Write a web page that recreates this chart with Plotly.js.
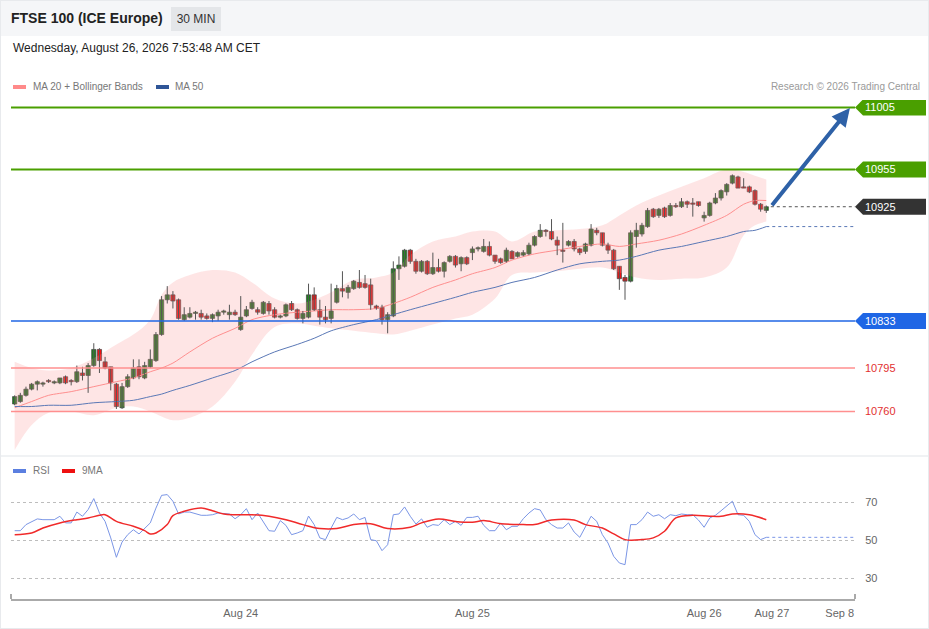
<!DOCTYPE html>
<html>
<head>
<meta charset="utf-8">
<script src="https://cdn.plot.ly/plotly-3.0.1.min.js"></script>
<style>
  html,body{margin:0;padding:0;background:#fff;}
  #wrap{position:relative;width:929px;height:629px;overflow:hidden;font-family:"Liberation Sans",Arial,sans-serif;}
  #chart{position:absolute;left:0;top:0;width:929px;height:629px;z-index:1;}
  .ov{position:absolute;z-index:2;white-space:nowrap;}
  #hdr{position:absolute;left:0;top:0;width:929px;height:36px;background:#f5f6f8;z-index:0;}
  #title{left:11px;top:10px;font-size:14px;font-weight:bold;color:#222;line-height:17px;}
  #badge{left:171px;top:7px;width:50px;height:24px;background:#e4e6e9;color:#333;font-size:12px;line-height:24px;text-align:center;}
  #date{left:13px;top:41px;font-size:12px;color:#222;line-height:14px;}
  .lg{font-size:10px;color:#777;line-height:12px;}
  .sw{position:absolute;z-index:2;height:4px;width:13px;}
  #sep{position:absolute;left:0;top:455px;width:929px;height:2px;background:#f0f2f4;z-index:0;}
  #border{position:absolute;left:0;top:0;width:927px;height:627px;border:1px solid #e8eaed;z-index:3;pointer-events:none;}
</style>
</head>
<body>
<div id="wrap">
  <div id="hdr"></div>
  <div id="sep"></div>
  <div id="chart"></div>
  <div class="ov" id="title">FTSE 100 (ICE Europe)</div>
  <div class="ov" id="badge">30 MIN</div>
  <div class="ov" id="date">Wednesday, August 26, 2026 7:53:48 AM CET</div>
  <div class="sw" style="left:13px;top:85px;background:#ff8a8a;"></div>
  <div class="ov lg" style="left:33px;top:81px;">MA 20 + Bollinger Bands</div>
  <div class="sw" style="left:156px;top:85px;background:#2f5597;"></div>
  <div class="ov lg" style="left:175px;top:81px;">MA 50</div>
  <div class="ov lg" style="right:9px;top:81px;color:#9a9a9a;">Research © 2026 Trading Central</div>
  <div class="sw" style="left:13px;top:469px;background:#5b7fe0;"></div>
  <div class="ov lg" style="left:33px;top:465px;">RSI</div>
  <div class="sw" style="left:62px;top:469px;background:#ee1111;"></div>
  <div class="ov lg" style="left:82px;top:465px;">9MA</div>
  <div id="border"></div>
</div>
<script>
// ---------- DATA ----------
const candleOpen = [10766,10768,10773,10778,10782,10782,10785,10783,10783,10788,
10785,10784,10791,10789,10797,10810,10800,10796,10782,10763,
10780,10787,10796,10787,10796,10801,10822,10850,10854,10850,
10834,10836,10839,10839,10837,10835,10837,10840,10838,10840,
10826,10837,10843,10842,10839,10847,10842,10836,10837,10847,
10842,10835,10836,10854,10842,10836,10835,10848,10859,10856,
10859,10864,10863,10862,10845,10844,10834,10837,10875,10877,
10890,10881,10873,10881,10871,10876,10873,10881,10885,10879,
10884,10888,10891,10889,10893,10886,10883,10881,10889,10885,
10886,10887,10894,10901,10906,10905,10898,10890,10894,10897,
10891,10889,10894,10906,10904,10894,10890,10877,10868,10865,
10901,10903,10909,10923,10918,10924,10918,10926,10925,10929,
10928,10929,10916,10918,10928,10932,10937,10944,10949,10941,
10941,10938,10927,10922];
const candleHigh = [10773,10775,10780,10783,10785,10784,10786,10785,10787,10789,
10786,10797,10796,10799,10815,10811,10804,10796,10783,10783,
10790,10802,10802,10800,10810,10824,10853,10861,10857,10851,
10844,10844,10841,10842,10839,10839,10842,10842,10846,10842,
10853,10845,10850,10844,10849,10849,10844,10838,10847,10849,
10843,10841,10863,10860,10850,10845,10863,10862,10873,10862,
10866,10874,10870,10867,10846,10846,10840,10881,10885,10891,
10891,10883,10882,10882,10888,10883,10881,10886,10886,10885,
10885,10893,10893,10899,10897,10886,10884,10892,10890,10889,
10890,10896,10902,10911,10907,10915,10901,10912,10898,10899,
10892,10896,10911,10908,10904,10896,10891,10877,10870,10906,
10912,10912,10924,10924,10924,10925,10928,10928,10932,10930,
10932,10929,10921,10929,10936,10939,10944,10951,10950,10948,
10942,10939,10928,10926];
const candleLow = [10765,10767,10772,10777,10777,10780,10783,10782,10782,10782,
10781,10783,10785,10775,10796,10791,10794,10777,10762,10762,
10779,10786,10786,10786,10795,10800,10821,10847,10843,10834,
10833,10835,10834,10834,10834,10832,10833,10838,10834,10837,
10825,10836,10842,10838,10838,10838,10835,10835,10836,10841,
10834,10831,10835,10841,10830,10831,10831,10847,10852,10851,
10858,10859,10859,10842,10842,10830,10823,10836,10866,10876,
10879,10871,10872,10870,10870,10872,10868,10880,10876,10873,
10878,10882,10889,10888,10885,10879,10879,10880,10883,10884,
10885,10886,10893,10900,10901,10898,10886,10880,10893,10889,
10886,10887,10893,10902,10893,10887,10874,10858,10850,10864,
10892,10901,10908,10916,10916,10916,10917,10924,10924,10924,
10917,10925,10913,10917,10927,10930,10934,10943,10940,10940,
10936,10926,10921,10920];
const candleClose = [10772,10773,10778,10782,10784,10783,10784,10784,10787,10783,
10784,10792,10789,10797,10810,10801,10795,10783,10764,10780,
10788,10795,10788,10797,10802,10822,10850,10854,10849,10835,
10838,10839,10840,10836,10835,10838,10840,10841,10840,10838,
10836,10842,10848,10840,10848,10841,10836,10837,10846,10842,
10835,10839,10854,10842,10836,10834,10841,10859,10857,10860,
10865,10860,10860,10846,10843,10834,10838,10875,10878,10890,
10881,10873,10881,10871,10876,10873,10880,10885,10878,10884,
10879,10891,10892,10893,10886,10881,10880,10890,10883,10888,
10888,10894,10901,10906,10905,10899,10894,10889,10897,10891,
10888,10895,10907,10904,10894,10890,10875,10867,10865,10904,
10906,10910,10922,10917,10923,10917,10926,10925,10929,10927,
10927,10926,10918,10928,10932,10938,10943,10950,10940,10940,
10937,10927,10923,10925];

// Moving averages and Bollinger bands, read at sample candles
const bandX = [0,3,6,10,14,18,21,24,26,28,31,35,39,42,46,50,53,56,60,64,67,70,74,78,81,85,88,92,96,100,104,107,110,114,118,122,126,129,131,133];
const bandUpper = [10800,10795,10793,10795,10803,10814,10822,10834,10854,10864,10870,10874,10872,10864,10851,10847,10850,10856,10866,10868,10872,10886,10897,10901,10905,10905,10897,10905,10906,10907,10910,10918,10926,10934,10941,10948,10955,10953,10950,10947];
const bandLower = [10729,10749,10759,10760,10757,10763,10764,10760,10756,10753,10755,10764,10784,10806,10828,10831,10829,10827,10825,10823,10822,10825,10830,10835,10838,10851,10870,10872,10873,10875,10876,10872,10868,10866,10867,10868,10876,10902,10910,10913];
const ma20Values = [10763,10768,10773,10776,10780,10784,10787,10792,10795,10799,10808,10819,10827,10834,10838,10840,10841,10842,10842,10843,10847,10852,10860,10866,10871,10876,10882,10887,10890,10893,10895,10893,10895,10898,10903,10910,10918,10927,10930,10930];
const ma50Values = [10764,10764,10765,10765,10767,10768,10769,10772,10774,10777,10781,10787,10793,10800,10808,10814,10819,10825,10830,10834,10838,10842,10847,10852,10856,10860,10864,10868,10874,10879,10881,10882,10885,10890,10893,10897,10901,10905,10906,10909];

// RSI (one value per candle) and its 9-period MA (sampled)
const rsiValues = [54.9,54.9,58.1,59.8,61.1,60.7,60.7,60.7,62.5,59.0,
59.0,64.7,62.5,66.0,71.8,64.2,59.8,51.1,40.9,48.9,
52.8,55.4,53.2,56.3,59.0,66.8,73.5,73.9,70.4,63.7,
64.7,64.7,63.7,63.0,63.0,63.3,64.2,63.9,63.7,61.2,
63.3,66.5,60.7,64.2,59.8,54.9,54.6,60.2,57.7,52.8,
53.7,54.9,62.6,58.1,51.1,50.2,56.3,61.9,60.7,61.6,
63.7,60.7,61.9,50.2,49.6,44.4,47.5,63.3,63.7,67.4,
62.5,58.4,61.1,56.7,58.1,57.7,60.7,58.1,59.8,57.7,
61.9,61.9,62.5,57.7,54.9,54.9,59.0,55.4,57.2,57.2,
61.2,64.2,66.5,65.8,60.7,58.1,56.3,56.3,59.0,54.2,
51.4,57.2,62.5,59.8,52.8,48.4,41.4,37.9,37.0,58.1,
58.1,60.7,64.7,62.5,63.3,61.2,63.3,62.8,63.7,63.3,
63.3,60.5,56.7,61.6,63.0,65.4,67.7,70.4,63.3,63.0,
59.8,52.8,50.2,51.4];
const rsiMaX = [0,3,5,8,11,13,15,16,18,21,23,24,25,27,28,30,33,35,37,39,42,45,48,51,54,57,60,63,66,70,72,75,78,81,83,86,90,92,95,99,101,104,106,108,111,113,115,117,120,123,125,127,130,133];
const rsiMaValues = [52.8,53.7,56.3,59.0,60.7,61.6,63.0,63.3,59.8,57.2,54.9,53.2,53.7,58.1,62.8,65.1,66.8,65.4,63.7,63.3,63.3,62.5,60.7,58.1,56.0,56.0,58.1,58.6,56.0,56.7,59.0,61.1,59.8,59.3,60.2,58.6,58.1,58.1,60.5,60.5,58.1,56.3,53.2,50.2,50.2,51.1,54.6,61.6,63.0,62.5,62.5,63.7,63.3,60.7];

// Key levels
const resistanceLevels = [11005, 10955];
const pivotLevel = 10833;
const supportLevels = [10795, 10760];
const lastPrice = 10925;

// Axis ticks
const rsiTicks = [30, 50, 70];
const dateTickPos = [40, 81, 122, 134, 146];
const dateTickLabels = ['Aug 24', 'Aug 25', 'Aug 26', 'Aug 27', 'Sep 8'];

// ---------- BUILD ----------
const idx = candleOpen.map((_, i) => i);
const lastIdx = idx.length - 1;
const X_MIN = -0.65, X_MAX = 148.7;
const C = {
  green: '#4a9f00', blue: '#1f66e5', dark: '#333333', red: '#ff8f8f', redText: '#e23030',
  ma20: '#ff8f8f', ma50: '#5a78b6', rsi: '#7b96e6', rsiMa: '#f02a2a', arrow: '#2e61a7',
  up: '#1d7f1d', down: '#f01212', outline: '#444444', wick: '#555555'
};

// Wicks: vertical segments from low to high for every candle
const wickX = [], wickY = [];
idx.forEach(i => { wickX.push(i, i, null); wickY.push(candleLow[i], candleHigh[i], null); });
// Bodies: bars from min(open,close) with height |close-open|
const bodyBase = idx.map(i => Math.min(candleOpen[i], candleClose[i]));
const bodyLen = idx.map(i => Math.max(Math.abs(candleClose[i] - candleOpen[i]), 0.8));
const bodyColor = idx.map(i => candleClose[i] >= candleOpen[i] ? C.up : C.down);

const traces = [
  {x: bandX, y: bandUpper, type: 'scatter', mode: 'lines', line: {width: 0, shape: 'spline', smoothing: 1}, xaxis: 'x', yaxis: 'y', hoverinfo: 'skip'},
  {x: bandX, y: bandLower, type: 'scatter', mode: 'lines', line: {width: 0, shape: 'spline', smoothing: 1}, fill: 'tonexty', fillcolor: 'rgba(250,150,150,0.25)', xaxis: 'x', yaxis: 'y', hoverinfo: 'skip'},
  {x: bandX, y: ma20Values, type: 'scatter', mode: 'lines', line: {width: 1, color: C.ma20, shape: 'spline', smoothing: 0.8}, xaxis: 'x', yaxis: 'y'},
  {x: bandX, y: ma50Values, type: 'scatter', mode: 'lines', line: {width: 1, color: C.ma50, shape: 'spline', smoothing: 0.8}, xaxis: 'x', yaxis: 'y'},
  {x: wickX, y: wickY, type: 'scatter', mode: 'lines', line: {width: 1, color: C.wick}, connectgaps: false, xaxis: 'x', yaxis: 'y'},
  {x: idx, y: bodyLen, base: bodyBase, type: 'bar', width: 0.75, marker: {color: bodyColor, line: {color: C.outline, width: 0.7}}, xaxis: 'x', yaxis: 'y'},
  {x: idx, y: rsiValues, type: 'scatter', mode: 'lines', line: {width: 1, color: C.rsi}, xaxis: 'x', yaxis: 'y2'},
  {x: rsiMaX, y: rsiMaValues, type: 'scatter', mode: 'lines', line: {width: 1.5, color: C.rsiMa, shape: 'spline', smoothing: 1}, xaxis: 'x', yaxis: 'y2'}
];

function levelLine(v, color, width, dash) {
  return {type: 'line', xref: 'paper', x0: 0, x1: 1, yref: 'y', y0: v, y1: v, line: {color: color, width: width, dash: dash || 'solid'}};
}
function tagShape(v, color) {
  return {type: 'path', xref: 'paper', yref: 'y', xsizemode: 'pixel', ysizemode: 'pixel', xanchor: 1, yanchor: v,
          path: 'M0,0 L8,8 L71,8 L71,-8 L8,-8 Z', fillcolor: color, line: {width: 0}};
}
function tagText(v, color) {
  return {xref: 'paper', x: 1, xshift: 8, xanchor: 'left', yref: 'y', y: v, yanchor: 'middle', text: String(v),
          showarrow: false, font: {color: color, size: 11}};
}

const shapes = [];
const annotations = [];
resistanceLevels.forEach(v => { shapes.push(levelLine(v, C.green, 2)); shapes.push(tagShape(v, C.green)); annotations.push(tagText(v, '#ffffff')); });
shapes.push(levelLine(pivotLevel, C.blue, 1.5)); shapes.push(tagShape(pivotLevel, C.blue)); annotations.push(tagText(pivotLevel, '#ffffff'));
supportLevels.forEach(v => { shapes.push(levelLine(v, C.red, 1.5)); annotations.push(tagText(v, C.redText)); });
// last price dotted + tag
shapes.push({type: 'line', xref: 'x', yref: 'y', x0: lastIdx + 0.8, x1: X_MAX, y0: lastPrice, y1: lastPrice, line: {color: '#555', width: 1, dash: 'dot'}});
shapes.push(tagShape(lastPrice, C.dark)); annotations.push(tagText(lastPrice, '#ffffff'));
// MA50 dotted extension
const ma50Last = ma50Values[ma50Values.length - 1];
shapes.push({type: 'line', xref: 'x', yref: 'y', x0: bandX[bandX.length - 1], x1: X_MAX, y0: ma50Last, y1: ma50Last, line: {color: C.ma50, width: 1, dash: 'dot'}});
// RSI dotted extension
const rsiLast = rsiValues[lastIdx];
shapes.push({type: 'line', xref: 'x', yref: 'y2', x0: lastIdx, x1: X_MAX, y0: rsiLast, y1: rsiLast, line: {color: C.rsi, width: 1, dash: 'dot'}});
// x axis end ticks
[0, 1].forEach(px => shapes.push({type: 'line', xref: 'paper', yref: 'paper', ysizemode: 'pixel', yanchor: 0.0477, x0: px, x1: px, y0: 0, y1: 5, line: {color: '#aaaaaa', width: 2}}));

// target arrow
annotations.push({x: 147.8, y: resistanceLevels[0] - 0.5, xref: 'x', yref: 'y', ax: lastIdx + 0.8, ay: lastPrice, axref: 'x', ayref: 'y',
  text: '', showarrow: true, arrowhead: 2, arrowsize: 0.9, arrowwidth: 4, arrowcolor: C.arrow, standoff: 0, startstandoff: 0});

const layout = {
  width: 929, height: 629,
  margin: {l: 11, r: 74, t: 0, b: 0},
  paper_bgcolor: 'rgba(0,0,0,0)', plot_bgcolor: 'rgba(0,0,0,0)',
  showlegend: false,
  barmode: 'overlay',
  font: {family: 'Liberation Sans, Arial, sans-serif', size: 11, color: '#666'},
  xaxis: {range: [X_MIN, X_MAX], anchor: 'y2', tickvals: dateTickPos, ticktext: dateTickLabels,
          showgrid: false, zeroline: false, showline: true, linecolor: '#aaaaaa', linewidth: 2,
          ticks: 'outside', ticklen: 3, tickcolor: 'rgba(0,0,0,0)', tickfont: {size: 11, color: '#666'},
          fixedrange: true},
  yaxis: {domain: [0.27663, 0.84102], range: [10724.92, 11011.01], anchor: 'x', visible: false, showgrid: false, zeroline: false, fixedrange: true},
  yaxis2: {domain: [0.04769, 0.23688], range: [18.95, 81.58], anchor: 'x', side: 'right', tickvals: rsiTicks,
           showgrid: true, griddash: 'dot', gridcolor: '#bdbdbd', gridwidth: 1, zeroline: false, showline: false,
           ticks: 'outside', ticklen: 7, tickcolor: 'rgba(0,0,0,0)', tickfont: {size: 11, color: '#666'}, fixedrange: true},
  shapes: shapes,
  annotations: annotations
};

Plotly.newPlot('chart', traces, layout, {staticPlot: true, displayModeBar: false});
</script>
</body>
</html>
